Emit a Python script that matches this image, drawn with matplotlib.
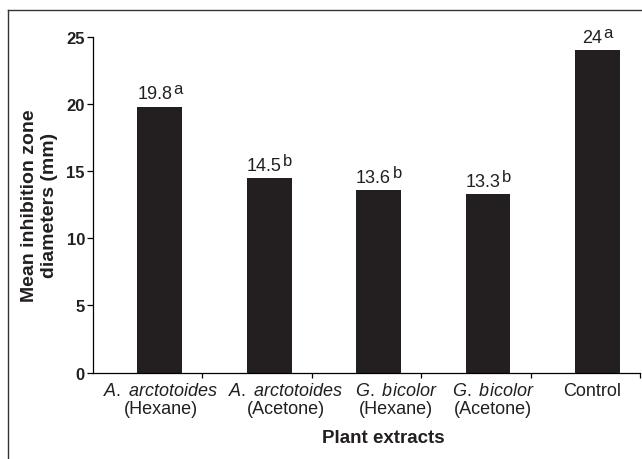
import numpy as np
import matplotlib.pyplot as plt
from matplotlib.lines import Line2D

plt.rcParams['font.family'] = ['Liberation Sans', 'DejaVu Sans']
plt.rcParams['mathtext.fontset'] = 'custom'
plt.rcParams['mathtext.rm'] = 'Liberation Sans'
plt.rcParams['mathtext.it'] = 'Liberation Sans:italic'

species = ['A. arctotoides', 'A. arctotoides', 'G. bicolor', 'G. bicolor', 'Control']
solvents = ['Hexane', 'Acetone', 'Hexane', 'Acetone', '']
values = [19.8, 14.5, 13.6, 13.3, 24]
value_labels = ['19.8', '14.5', '13.6', '13.3', '24']
letters = ['a', 'b', 'b', 'b', 'a']
label_pos = [0.01, 1.15, 2.16, 3.05, 3.95]

ink = '#231f20'

fig = plt.figure(figsize=(6.42, 4.60), dpi=100)
ax = fig.add_axes([0.1449, 0.188, 0.852, 0.7293])

x = np.arange(len(values))
ax.bar(x, values, width=0.41, color=ink)

for xi, v, vl, let in zip(x, values, value_labels, letters):
    t = ax.annotate(vl, (xi, v), xytext=(-3.6, 6), textcoords='offset points',
                    ha='center', va='baseline', fontsize=13, color=ink)
    ax.annotate(let, xy=(1, 0), xycoords=t, xytext=(1, 6.5), textcoords='offset points',
                ha='left', va='baseline', fontsize=12, color=ink)

ticklabels = []
for sp, so in zip(species, solvents):
    if so:
        ticklabels.append(r'$\mathit{' + sp.replace(' ', r'\ ') + '}$\n(' + so + ')')
    else:
        ticklabels.append(sp + '\n')
ax.set_xticks(label_pos)
ax.set_xticklabels(ticklabels, fontsize=13, linespacing=1.1, color=ink)
ax.tick_params(axis='x', which='major', length=0, pad=6.5)
ax.set_xticks(np.arange(len(values)) + 0.39, minor=True)
ax.tick_params(axis='x', which='minor', length=3.8, width=0.9, direction='out')

ax.set_xlim(-0.61, 4.39)
ax.set_ylim(0, 25)
ax.set_yticks([0, 5, 10, 15, 20, 25])
ax.tick_params(axis='y', length=4.3, width=0.9, labelsize=12, pad=1.5)
for lbl in ax.get_yticklabels():
    lbl.set_fontweight('bold')
    lbl.set_color(ink)

for s in ['top', 'right']:
    ax.spines[s].set_visible(False)
for s in ['left', 'bottom']:
    ax.spines[s].set_linewidth(0.9)

ax.set_ylabel('Mean inhibition zone\ndiameters (mm)', fontsize=14, fontweight='bold',
              linespacing=1.2, color=ink)
ax.yaxis.set_label_coords(-0.064, 0.5)
ax.set_xlabel('Plant extracts', fontsize=13.5, fontweight='bold', color=ink)
ax.xaxis.set_label_coords(0.53, -0.168)

# outer frame (left and top edges)
fig.add_artist(Line2D([8 / 642, 8 / 642], [0, 1 - 11 / 460], color='#333333', lw=1))
fig.add_artist(Line2D([8 / 642, 1], [1 - 11 / 460, 1 - 11 / 460], color='#333333', lw=1))

fig.savefig('out.png', dpi=100)
